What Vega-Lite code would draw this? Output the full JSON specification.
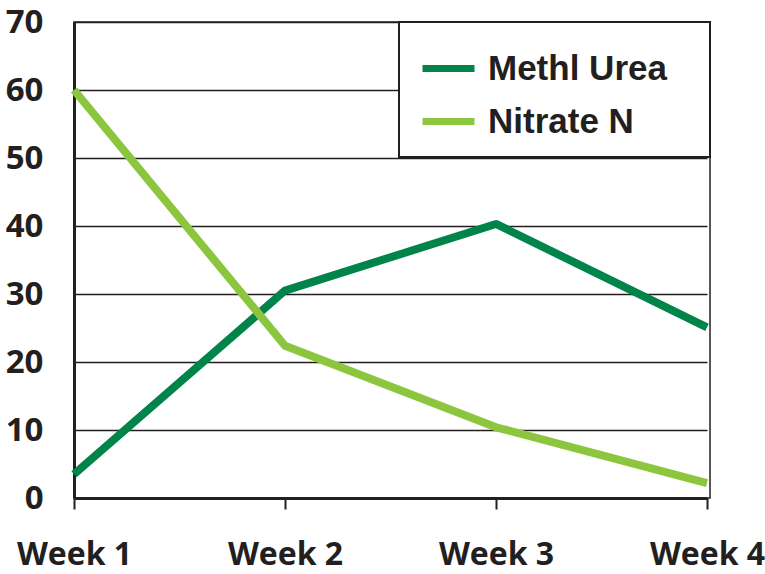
{
  "$schema": "https://vega.github.io/schema/vega-lite/v6.json",
  "autosize": "none",
  "width": 636,
  "height": 476,
  "padding": {"left": 74, "top": 22, "right": 55, "bottom": 76},
  "background": "white",
  "config": {
    "view": {"stroke": "#222", "strokeWidth": 1.5},
    "axis": {"labelFont": "Open Sans", "labelFontWeight": "bold", "labelColor": "#231f20", "labelFontSize": 33, "title": null}
  },
  "data": {
    "values": [
      {"week": "Week 1", "series": "Methl Urea", "value": 3.5},
      {"week": "Week 2", "series": "Methl Urea", "value": 30.5},
      {"week": "Week 3", "series": "Methl Urea", "value": 40.3},
      {"week": "Week 4", "series": "Methl Urea", "value": 25.1},
      {"week": "Week 1", "series": "Nitrate N", "value": 60},
      {"week": "Week 2", "series": "Nitrate N", "value": 22.4},
      {"week": "Week 3", "series": "Nitrate N", "value": 10.4},
      {"week": "Week 4", "series": "Nitrate N", "value": 2.2}
    ]
  },
  "mark": {"type": "line", "strokeWidth": 8, "strokeCap": "butt", "strokeJoin": "round"},
  "encoding": {
    "x": {
      "field": "week", "type": "ordinal",
      "scale": {"type": "point", "padding": 0, "range": [0, 633]},
      "axis": {"labelAngle": 0, "labelFontSize": 32, "domain": true, "domainColor": "#231f20", "domainWidth": 3, "tickColor": "#231f20", "tickWidth": 2, "tickSize": 11, "labelPadding": 30, "labelOverlap": false, "labelBound": false, "grid": false}
    },
    "y": {
      "field": "value", "type": "quantitative",
      "scale": {"domain": [0, 70], "nice": false},
      "axis": {"values": [0, 10, 20, 30, 40, 50, 60, 70], "domainColor": "#231f20", "domainWidth": 3, "ticks": false, "labelPadding": 31, "grid": true, "gridColor": "#231f20", "gridWidth": 1.5, "gridOpacity": 1}
    },
    "color": {
      "field": "series", "type": "nominal",
      "scale": {"domain": ["Methl Urea", "Nitrate N"], "range": ["#00844a", "#8cc63f"]},
      "legend": {
        "title": null, "orient": "top-right", "offset": 0,
        "fillColor": "white", "strokeColor": "#231f20",
        "padding": 17, "symbolType": "stroke", "symbolSize": 2704, "symbolStrokeWidth": 7,
        "symbolOffset": 3, "labelOffset": 10,
        "labelFont": "Liberation Sans", "labelFontWeight": "bold", "labelFontSize": 35, "labelColor": "#231f20",
        "rowPadding": 5, "labelLimit": 400,
        "labelExpr": "datum.label + '\u2800'",
        "encode": {"legend": {"update": {"strokeWidth": {"value": 2}}}}
      }
    }
  }
}
